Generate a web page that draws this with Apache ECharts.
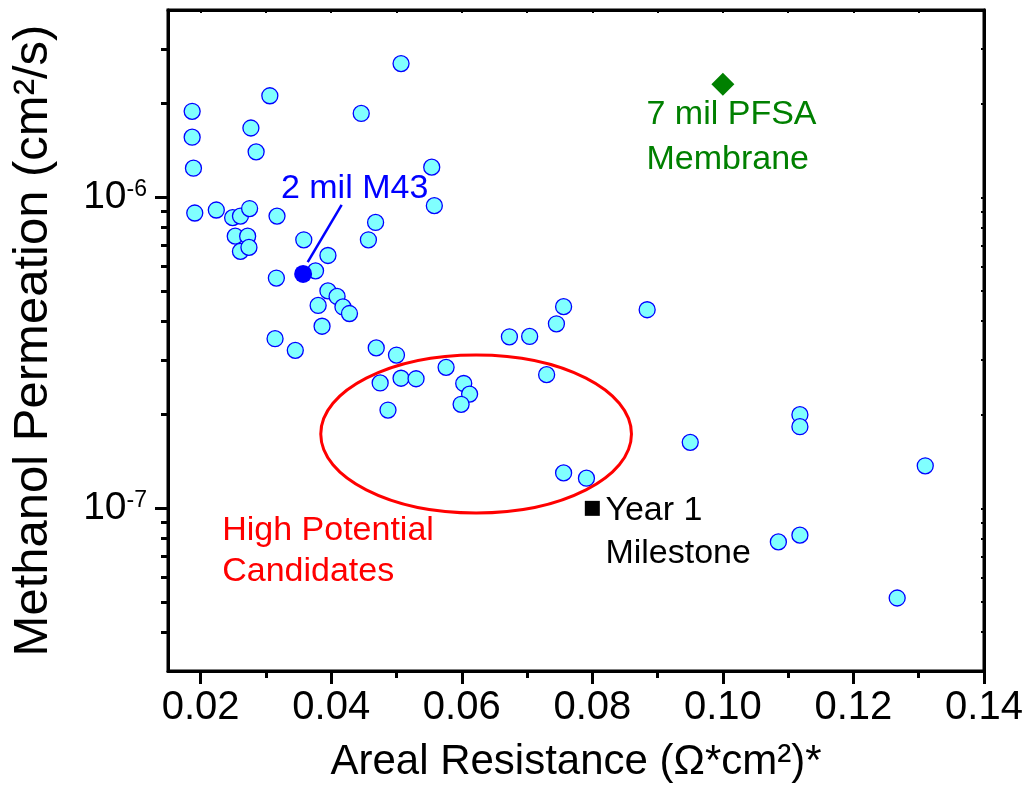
<!DOCTYPE html>
<html><head><meta charset="utf-8">
<script src="https://cdn.jsdelivr.net/npm/echarts@6/dist/echarts.min.js"></script>
<style>html,body{margin:0;padding:0;background:#fff}#c{width:1028px;height:795px}</style>
</head><body><div id="c"></div>
<script>
const FONT = '"Liberation Sans", Arial, Helvetica, sans-serif';

// Axis ticks
const xTickLabels = [0.02, 0.04, 0.06, 0.08, 0.10, 0.12, 0.14];
const xMinorTicks = [0.03, 0.05, 0.07, 0.09, 0.11, 0.13];
const xAllTicks = [0.02, 0.03, 0.04, 0.05, 0.06, 0.07, 0.08, 0.09, 0.10, 0.11, 0.12, 0.13];
const yMajorTicks = [1e-7, 1e-6];
const yMinorTicks = [4e-8, 5e-8, 6e-8, 7e-8, 8e-8, 9e-8, 2e-7, 3e-7, 4e-7, 5e-7, 6e-7, 7e-7, 8e-7, 9e-7, 2e-6, 3e-6];
const yAllTicks = [4e-8, 5e-8, 6e-8, 7e-8, 8e-8, 9e-8, 1e-7, 2e-7, 3e-7, 4e-7, 5e-7, 6e-7, 7e-7, 8e-7, 9e-7, 1e-6, 2e-6, 3e-6];

// Membrane candidates: areal resistance (ohm*cm2) and methanol permeation (cm2/s)
const arealResistance = [
  0.0187, 0.0187, 0.0189, 0.0191, 0.0306, 0.0277, 0.0285, 0.0507, 0.0446, 0.0554,
  0.0558, 0.0224, 0.0249, 0.0261, 0.0275, 0.0253, 0.0272, 0.0261, 0.0274, 0.0317,
  0.0358, 0.0395, 0.0376, 0.0316, 0.0468, 0.0457, 0.0395, 0.0409, 0.0418, 0.0428,
  0.0380, 0.0386, 0.0314, 0.0345, 0.0469, 0.0500, 0.0475, 0.0507, 0.0530, 0.0487,
  0.0576, 0.0603, 0.0612, 0.0599, 0.0673, 0.0704, 0.0745, 0.0756, 0.0884, 0.0730,
  0.0756, 0.0791, 0.0950, 0.1118, 0.1118, 0.1310, 0.1085, 0.1118, 0.1267
];
const methanolPermeation = [
  1.89e-6, 1.56e-6, 1.24e-6, 8.9e-7, 2.12e-6, 1.67e-6, 1.40e-6, 2.69e-6, 1.86e-6, 1.25e-6,
  9.4e-7, 9.1e-7, 8.6e-7, 8.7e-7, 9.2e-7, 7.5e-7, 7.5e-7, 6.7e-7, 6.9e-7, 8.7e-7,
  7.3e-7, 6.5e-7, 5.8e-7, 5.5e-7, 8.3e-7, 7.3e-7, 5.0e-7, 4.8e-7, 4.44e-7, 4.23e-7,
  4.49e-7, 3.85e-7, 3.51e-7, 3.22e-7, 3.28e-7, 3.11e-7, 2.53e-7, 2.62e-7, 2.61e-7, 2.07e-7,
  2.84e-7, 2.52e-7, 2.33e-7, 2.16e-7, 3.56e-7, 3.57e-7, 3.92e-7, 4.45e-7, 4.35e-7, 2.69e-7,
  1.30e-7, 1.25e-7, 1.63e-7, 2.00e-7, 1.83e-7, 1.37e-7, 7.8e-8, 8.2e-8, 5.15e-8
];

// Highlighted points
const m43Point = [0.0357, 5.67e-7];
const pfsaPoint = [0.100, 2.31e-6];
const milestonePoint = [0.080, 1.0e-7];

// Leader line from "2 mil M43" label to its point
const m43Leader = [[0.0416, 9.45e-7], [0.0364, 6.19e-7]];

// Ellipse around high potential candidates (center, half width, half height in decades)
const ellipseCenter = [0.0622, 1.734e-7];
const ellipseHalfWidth = 0.0238;
const ellipseHalfDecades = 0.254;

// Annotation text anchors (left edge, vertical middle)
const annotations = [
  { text: '2 mil M43', at: [0.0323, 1.07e-6], color: '#0000ff' },
  { text: '7 mil PFSA', at: [0.0883, 1.84e-6], color: '#008000' },
  { text: 'Membrane', at: [0.0883, 1.32e-6], color: '#008000' },
  { text: 'High Potential', at: [0.0233, 8.48e-8], color: '#ff0000' },
  { text: 'Candidates', at: [0.0233, 6.25e-8], color: '#ff0000' },
  { text: 'Year 1', at: [0.0820, 9.84e-8], color: '#000000' },
  { text: 'Milestone', at: [0.0820, 7.14e-8], color: '#000000' }
];

const X_MIN = 0.015, X_MAX = 0.14, Y_MIN = 3e-8, Y_MAX = 4e-6;

const chart = echarts.init(document.getElementById('c'), null, { renderer: 'canvas' });

const axisLineStyle = { color: '#000', width: 3 };

const option = {
  animation: false,
  backgroundColor: '#fff',
  grid: { left: 168, right: 44, top: 10, bottom: 124, show: true, borderColor: '#000', borderWidth: 3, backgroundColor: 'transparent' },
  xAxis: [
    {
      type: 'value', min: X_MIN, max: X_MAX, position: 'bottom',
      axisLine: { show: true, onZero: false, lineStyle: axisLineStyle },
      axisTick: { show: true, inside: false, length: 13, lineStyle: { color: '#000', width: 3 }, customValues: xTickLabels },
      axisLabel: { customValues: xTickLabels, formatter: v => v.toFixed(2), margin: 17, fontSize: 40, fontFamily: FONT, color: '#000' },
      splitLine: { show: false },
      name: 'Areal Resistance (Ω*cm²)*', nameLocation: 'middle', nameGap: 70,
      nameTextStyle: { fontSize: 42, fontFamily: FONT, color: '#000' }
    },
    {
      type: 'value', min: X_MIN, max: X_MAX, position: 'bottom',
      axisLine: { show: false, onZero: false },
      axisTick: { show: true, inside: false, length: 7, lineStyle: { color: '#000', width: 3 }, customValues: xMinorTicks },
      axisLabel: { show: false }, splitLine: { show: false }
    },
    {
      type: 'value', min: X_MIN, max: X_MAX, position: 'top',
      axisLine: { show: true, onZero: false, lineStyle: axisLineStyle },
      axisTick: { show: true, inside: true, length: 3, lineStyle: { color: '#000', width: 2 }, customValues: xAllTicks },
      axisLabel: { show: false }, splitLine: { show: false }
    }
  ],
  yAxis: [
    {
      type: 'log', logBase: 10, min: Y_MIN, max: Y_MAX, position: 'left',
      axisLine: { show: true, onZero: false, lineStyle: axisLineStyle },
      axisTick: { show: true, inside: false, length: 13, lineStyle: { color: '#000', width: 3 }, customValues: yMajorTicks },
      axisLabel: {
        customValues: yMajorTicks, margin: 21, color: '#000',
        formatter: v => '{b|10}{s|' + Math.round(Math.log10(v)) + '}',
        rich: {
          b: { fontSize: 39, fontFamily: FONT, color: '#000', lineHeight: 38, verticalAlign: 'middle' },
          s: { fontSize: 23, fontFamily: FONT, color: '#000', lineHeight: 10, verticalAlign: 'top' }
        }
      },
      splitLine: { show: false },
      name: 'Methanol Permeation (cm²/s)', nameLocation: 'middle', nameGap: 110,
      nameTextStyle: { fontSize: 49, fontFamily: FONT, color: '#000' }
    },
    {
      type: 'log', logBase: 10, min: Y_MIN, max: Y_MAX, position: 'left',
      axisLine: { show: false, onZero: false },
      axisTick: { show: true, inside: false, length: 7, lineStyle: { color: '#000', width: 3 }, customValues: yMinorTicks },
      axisLabel: { show: false }, splitLine: { show: false }
    },
    {
      type: 'log', logBase: 10, min: Y_MIN, max: Y_MAX, position: 'right',
      axisLine: { show: true, onZero: false, lineStyle: axisLineStyle },
      axisTick: { show: true, inside: true, length: 3, lineStyle: { color: '#000', width: 2 }, customValues: yAllTicks },
      axisLabel: { show: false }, splitLine: { show: false }
    }
  ],
  series: [
    {
      type: 'scatter', xAxisIndex: 0, yAxisIndex: 0, silent: true,
      data: arealResistance.map((x, i) => [x, methanolPermeation[i]]),
      symbol: 'circle', symbolSize: 16,
      itemStyle: { color: '#80ffff', borderColor: '#0000ff', borderWidth: 1.3, opacity: 1 }
    },
    {
      type: 'line', xAxisIndex: 0, yAxisIndex: 0, silent: true,
      data: m43Leader, showSymbol: false, symbol: 'none',
      lineStyle: { color: '#0000ff', width: 2.5 }
    },
    {
      type: 'scatter', xAxisIndex: 0, yAxisIndex: 0, silent: true,
      data: [m43Point], symbol: 'circle', symbolSize: 18,
      itemStyle: { color: '#0000ff', opacity: 1 }
    },
    {
      type: 'scatter', xAxisIndex: 0, yAxisIndex: 0, silent: true,
      data: [pfsaPoint], symbol: 'diamond', symbolSize: 23,
      itemStyle: { color: '#008000', opacity: 1 }
    },
    {
      type: 'scatter', xAxisIndex: 0, yAxisIndex: 0, silent: true,
      data: [milestonePoint], symbol: 'rect', symbolSize: 15,
      itemStyle: { color: '#000000', opacity: 1 }
    }
  ]
};
chart.setOption(option);

function px(pt) { return chart.convertToPixel({ xAxisIndex: 0, yAxisIndex: 0 }, pt); }

const c = px(ellipseCenter);
const edge = px([ellipseCenter[0] + ellipseHalfWidth, Math.pow(10, Math.log10(ellipseCenter[1]) + ellipseHalfDecades)]);
const graphics = [{
  type: 'ellipse', silent: true, z: 50,
  shape: { cx: c[0], cy: c[1], rx: edge[0] - c[0], ry: c[1] - edge[1] },
  style: { fill: 'none', stroke: '#ff0000', lineWidth: 3 }
}];
annotations.forEach(a => {
  const p = px(a.at);
  graphics.push({
    type: 'text', silent: true, z: 60, x: p[0], y: p[1],
    style: {
      text: a.text, fill: a.color, font: '34px ' + FONT,
      textAlign: 'left', textVerticalAlign: 'middle', align: 'left', verticalAlign: 'middle'
    }
  });
});
chart.setOption({ graphic: graphics });
</script>
</body></html>
